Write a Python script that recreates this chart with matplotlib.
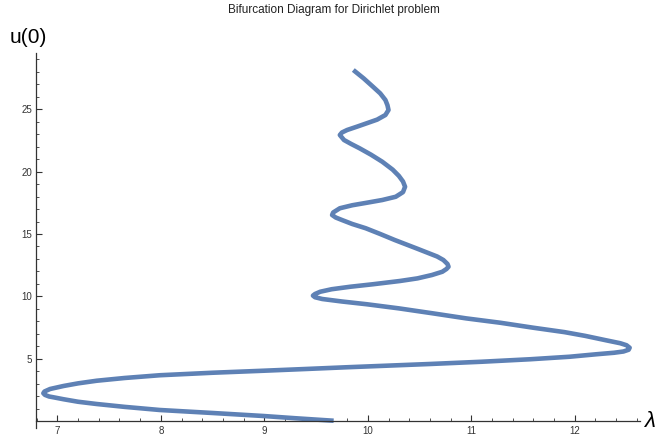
import numpy as np
import matplotlib
matplotlib.use("Agg")
import matplotlib.pyplot as plt
from matplotlib.ticker import MultipleLocator

# ----------------------------------------------------------------------
# Points (lambda, u(0)), in drawing order
# ----------------------------------------------------------------------

lam = [9.67, 9.30, 8.99, 8.50, 7.99, 7.65, 7.38, 7.20, 7.06, 6.96, 6.92,
       6.88, 6.865, 6.876, 6.93, 7.06, 7.20, 7.38, 7.65, 7.99, 8.50, 8.99,
       9.40, 9.80, 10.20, 10.60, 11.10, 11.57, 11.95, 12.21, 12.38, 12.47,
       12.52, 12.53, 12.50, 12.44, 12.30, 12.10, 11.90, 11.60, 11.28, 10.95,
       10.63, 10.30, 9.99, 9.75, 9.56, 9.49, 9.47, 9.49, 9.54, 9.65, 9.83,
       10.05, 10.31, 10.48, 10.62, 10.72, 10.76, 10.78, 10.77, 10.73, 10.67,
       10.59, 10.47, 10.26, 10.12, 9.98, 9.85, 9.75, 9.69, 9.655, 9.665, 9.73,
       9.85, 9.99, 10.14, 10.27, 10.34, 10.36, 10.34, 10.30, 10.24, 10.14,
       10.03, 9.92, 9.84, 9.77, 9.73, 9.75, 9.80, 9.90, 9.99, 10.09, 10.17,
       10.20, 10.19, 10.17, 10.12, 10.05, 9.96, 9.86]
u0 = [0.06, 0.26, 0.44, 0.68, 0.92, 1.17, 1.40, 1.58, 1.78, 1.94, 2.00,
      2.13, 2.26, 2.40, 2.60, 2.84, 3.05, 3.26, 3.48, 3.70, 3.90, 4.06,
      4.20, 4.34, 4.47, 4.60, 4.78, 4.98, 5.18, 5.38, 5.50, 5.60,
      5.74, 5.90, 6.10, 6.26, 6.50, 6.85, 7.15, 7.50, 7.90, 8.25,
      8.65, 9.05, 9.38, 9.60, 9.80, 9.94, 10.07, 10.20, 10.38, 10.58, 10.78,
      10.98, 11.24, 11.45, 11.72, 11.98, 12.20, 12.38, 12.60, 12.92, 13.20,
      13.46, 13.85, 14.52, 15.00, 15.46, 15.80, 16.12, 16.32, 16.52, 16.72, 17.06,
      17.30, 17.50, 17.72, 17.98, 18.35, 18.78, 19.20, 19.65, 20.15, 20.78,
      21.35, 21.86, 22.20, 22.52, 22.92, 23.12, 23.32, 23.60, 23.86, 24.15, 24.52,
      24.92, 25.30, 25.72, 26.25, 26.78, 27.45, 28.12]

x_ticks = [7, 8, 9, 10, 11, 12]
y_ticks = [5, 10, 15, 20, 25]

plt.rcParams['font.family'] = ['Liberation Sans', 'DejaVu Sans']

fig = plt.figure(figsize=(6.63, 4.41), dpi=100)
ax = fig.add_axes([0.0543, 0.0295, 0.911, 0.8503])

ax.plot(lam, u0, color='#5E81B5', lw=3.3, solid_capstyle='butt',
        solid_joinstyle='round')

ax.set_xlim(6.794, 12.63)
ax.set_ylim(-0.52, 29.48)

for s in ['top', 'right']:
    ax.spines[s].set_visible(False)
ax.spines['bottom'].set_position(('data', 0))
for s in ['left', 'bottom']:
    ax.spines[s].set_color('#333333')
    ax.spines[s].set_linewidth(0.9)

ax.set_xticks(x_ticks)
ax.set_yticks(y_ticks)
ax.xaxis.set_minor_locator(MultipleLocator(0.2))
ax.yaxis.set_minor_locator(MultipleLocator(1))
ax.tick_params(which='major', direction='in', length=4, width=0.8,
               color='#333333', labelsize=7, labelcolor='#333333', pad=3)
ax.tick_params(which='minor', direction='in', length=2.2, width=0.6,
               color='#333333')

fig.text(0.015, 0.915, 'u(0)', fontsize=15, va='center', ha='left')
fig.text(0.972, 0.045, 'λ', fontsize=16, style='italic', va='center', ha='left')
fig.text(0.503, 0.978, 'Bifurcation Diagram for Dirichlet problem',
         fontsize=8.5, ha='center', va='center', color='#222222')

fig.savefig('out.png', dpi=100)
